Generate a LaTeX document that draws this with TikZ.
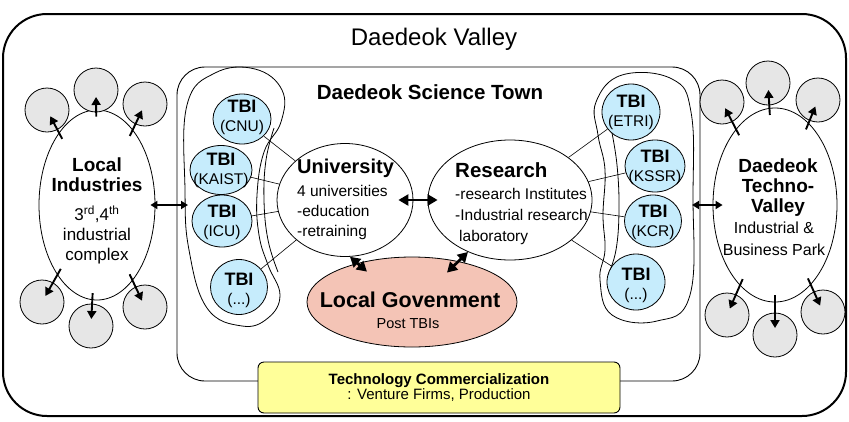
\documentclass[tikz,border=0pt]{standalone}
\usepackage{fontspec}
\setmainfont{Liberation Sans}
\usetikzlibrary{shapes.geometric,arrows.meta}

\definecolor{tbiblue}{RGB}{198,236,252}
\definecolor{govpink}{RGB}{244,196,182}
\definecolor{satgray}{RGB}{230,230,230}
\definecolor{notepad}{RGB}{255,255,153}

\tikzset{
  oval/.style={ellipse, draw, line width=0.8pt, inner sep=0pt},
  sat/.style={circle, draw, fill=satgray, line width=0.8pt, minimum size=44pt, inner sep=0pt},
  tbi/.style={ellipse, draw, fill=tbiblue, line width=0.8pt, inner sep=0pt},
  satarrow/.style={-{Triangle[length=8pt,width=9pt]}, line width=1.9pt, shorten <=-7pt, shorten >=7pt},
  smallbi/.style={{Triangle[length=7pt,width=8pt]}-{Triangle[length=7pt,width=8pt]}, line width=1.8pt},
  linkarrow/.style={{Triangle[length=10pt,width=11pt]}-{Triangle[length=10pt,width=11pt]}, line width=2.8pt},
  tie/.style={line width=0.6pt},
  blob/.style={line width=0.8pt},
  titlebf/.style={inner sep=0pt, align=center, font=\bfseries\fontsize{19}{20}\selectfont},
  bodytxt/.style={inner sep=0pt, font=\fontsize{15.5}{20}\selectfont},
  tbitext/.style={inner sep=0pt, align=center, font=\fontsize{15.5}{19}\selectfont},
}

\begin{document}
\begin{tikzpicture}[x=1pt,y=-1pt]
\useasboundingbox (0,0) rectangle (849,421);

% Daedeok Valley frame and Science Town frame
\draw[line width=2pt, rounded corners=44pt] (3,14) rectangle (846,416);
\node[inner sep=0pt, font=\fontsize{24}{26}\selectfont] (valley) at (434,39) {Daedeok Valley};
\draw[line width=0.9pt, rounded corners=28pt] (177,67) rectangle (700,381);
\node[inner sep=0pt, font=\bfseries\fontsize{20.5}{22}\selectfont] (town) at (430,92) {Daedeok Science Town};

% main ovals
\node[oval, minimum width=116pt, minimum height=190pt] (li) at (97,205) {};
\node[oval, minimum width=124pt, minimum height=194pt] (tv) at (775,205) {};
\node[oval, minimum width=136pt, minimum height=113pt] (univ) at (345,200) {};
\node[oval, minimum width=164pt, minimum height=120pt] (res) at (510,200) {};
\node[oval, fill=govpink, minimum width=210pt, minimum height=90pt] (gov) at (412,302) {};

% satellite firms around the industrial areas
\node[sat] (ls1) at (47,110) {};
\node[sat] (ls2) at (96,90) {};
\node[sat] (ls3) at (145,104) {};
\node[sat] (ls4) at (42,302) {};
\node[sat] (ls5) at (91,326) {};
\node[sat] (ls6) at (145,307) {};
\node[sat] (rs1) at (722,102) {};
\node[sat] (rs2) at (768,83) {};
\node[sat] (rs3) at (818,100) {};
\node[sat] (rs4) at (727,315) {};
\node[sat] (rs5) at (775,335) {};
\node[sat] (rs6) at (823,312) {};

\foreach \s in {ls1,ls2,ls3,ls4,ls5,ls6}
  \draw[satarrow] (li) -- (\s.center);
\foreach \s in {rs1,rs2,rs3,rs4,rs5,rs6}
  \draw[satarrow] (tv) -- (\s.center);

% TBI groups
\draw[blob] plot[smooth cycle, tension=0.7] coordinates {(187,105) (215,73) (255,69) (282,90) (281,122) (264,152) (257,195) (259,235) (268,265) (280,295) (268,318) (242,326) (207,308) (189,250) (185,190)};
\draw[blob] plot[smooth, tension=0.7] coordinates {(274,128) (266,160) (264,200) (268,240) (278,272)};
\draw[blob] plot[smooth cycle, tension=0.7] coordinates {(596,102) (622,75) (672,79) (691,112) (693,195) (690,295) (657,321) (612,315) (600,280) (605,250) (603,215) (605,170) (598,135)};
\draw[blob] plot[smooth, tension=0.7] coordinates {(611,128) (617,165) (619,210) (616,250) (608,275)};

\node[tbi, minimum width=58pt, minimum height=50pt] (cnu) at (242,119) {};
\node[tbi, minimum width=62pt, minimum height=49pt] (kaist) at (221,170) {};
\node[tbi, minimum width=60pt, minimum height=52pt] (icu) at (222,221) {};
\node[tbi, minimum width=57pt, minimum height=55pt] (ltbi) at (239,287) {};
\node[tbi, minimum width=58pt, minimum height=56pt] (etri) at (631,112) {};
\node[tbi, minimum width=60pt, minimum height=52pt] (kssr) at (655,166) {};
\node[tbi, minimum width=57pt, minimum height=52pt] (kcr) at (653,221) {};
\node[tbi, minimum width=58pt, minimum height=56pt] (rtbi) at (636,282) {};

\foreach \t in {cnu,kaist,icu,ltbi} \draw[tie] (\t) -- (univ);
\foreach \t in {etri,kssr,kcr,rtbi} \draw[tie] (\t) -- (res);

\node[tbitext] (cnu-t) at (242,117) {{\bfseries\fontsize{18}{19}\selectfont TBI}\\(CNU)};
\node[tbitext] (kaist-t) at (221,170) {{\bfseries\fontsize{18}{19}\selectfont TBI}\\(KAIST)};
\node[tbitext] (icu-t) at (222,222) {{\bfseries\fontsize{18}{19}\selectfont TBI}\\(ICU)};
\node[tbitext] (ltbi-t) at (239,290) {{\bfseries\fontsize{18}{19}\selectfont TBI}\\(...)};
\node[tbitext] (etri-t) at (631,112) {{\bfseries\fontsize{18}{19}\selectfont TBI}\\(ETRI)};
\node[tbitext] (kssr-t) at (655,167) {{\bfseries\fontsize{18}{19}\selectfont TBI}\\(KSSR)};
\node[tbitext] (kcr-t) at (653,222) {{\bfseries\fontsize{18}{19}\selectfont TBI}\\(KCR)};
\node[tbitext] (rtbi-t) at (636,285) {{\bfseries\fontsize{18}{19}\selectfont TBI}\\(...)};

% links between the actors
\coordinate (lgrp) at (188,205);
\coordinate (rgrp) at (692,205);
\draw[smallbi] ([xshift=-5pt]li.east) -- (lgrp);
\draw[smallbi] (rgrp) -- ([xshift=10pt]tv.west);
\draw[linkarrow] ([xshift=-15pt]univ.east) -- ([xshift=10pt]res.west);
\draw[linkarrow] (univ.-85) -- ([xshift=-45pt,yshift=-15pt]gov.north);
\draw[linkarrow] (res.-129) -- ([xshift=35pt,yshift=-16pt]gov.north);

% texts of the ovals
\node[titlebf] (li-title) at (97,175) {Local\\Industries};
\node[bodytxt, align=center, font=\fontsize{17}{20}\selectfont] (li-body) at (97,235) {3\textsuperscript{rd},4\textsuperscript{th}\\industrial\\complex};
\node[titlebf, font=\bfseries\fontsize{20}{20}\selectfont, anchor=west] (univ-title) at (297,168) {University};
\node[bodytxt, align=left, anchor=west] (univ-body) at (297,212) {4 universities\\-education\\-retraining};
\node[titlebf, font=\bfseries\fontsize{20.5}{20}\selectfont, anchor=west] (res-title) at (455,170) {Research};
\node[bodytxt, align=left, anchor=west, font=\fontsize{15.5}{21}\selectfont] (res-body) at (455,216) {-research Institutes\\-Industrial research\\\hspace{4pt}laboratory};
\node[titlebf] (tv-title) at (778,188) {Daedeok\\Techno-\\Valley};
\node[bodytxt, align=center, font=\fontsize{16}{22}\selectfont] (tv-body) at (774,239) {Industrial \&\\Business Park};
\node[inner sep=0pt, font=\bfseries\fontsize{21.5}{22}\selectfont] (gov-title) at (410,300) {Local Govenment};
\node[inner sep=0pt, font=\fontsize{14.5}{16}\selectfont] (gov-body) at (408,324) {Post TBIs};

% commercialization banner
\node[draw, fill=notepad, rounded corners=6pt, line width=0.9pt, minimum width=362pt, minimum height=51pt, inner sep=0pt, align=center] (tc) at (439,387.5)
  {{\bfseries\fontsize{15}{21}\selectfont Technology Commercialization}\\{\fontsize{15}{21}\selectfont : Venture Firms, Production}};
\end{tikzpicture}
\end{document}
